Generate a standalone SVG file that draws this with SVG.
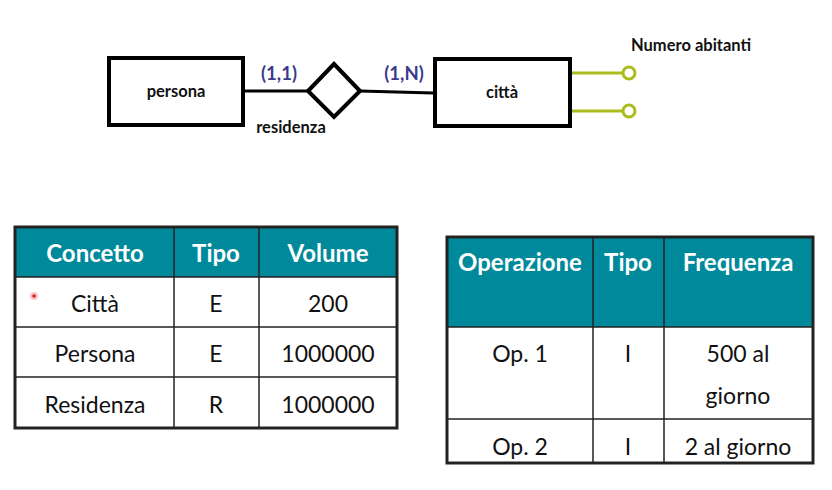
<svg xmlns="http://www.w3.org/2000/svg" width="832" height="490" viewBox="0 0 832 490">
<style>
.ent{fill:#fff;stroke:#000;stroke-width:4}
.lbl{font-family:Lato,"Liberation Sans",sans-serif;font-weight:bold;font-size:16.5px;fill:#111}
.card{font-family:Lato,"Liberation Sans",sans-serif;font-weight:bold;font-size:18.5px;fill:#3a3a8a}
.conn{stroke:#000;stroke-width:3;fill:none}
.attr{stroke:#a9bc1c;stroke-width:3;fill:none}
.attrc{stroke:#a9bc1c;stroke-width:3;fill:#fff}
.hdr{fill:#00899a}
.ht{font-family:Lato,"Liberation Sans",sans-serif;font-weight:bold;font-size:24px;fill:#fff;text-anchor:middle}
.bt{font-family:Lato,"Liberation Sans",sans-serif;font-size:23px;fill:#111;text-anchor:middle}
.grid{stroke:#222;stroke-width:1.5;fill:none}
.outer{stroke:#222;stroke-width:3;fill:none}
</style>
<rect width="832" height="490" fill="#fff"/>
<g id="connectors">
<line class="conn" x1="245" y1="91" x2="308" y2="91"/>
<line class="conn" x1="360" y1="91" x2="433" y2="93"/>
<line class="attr" x1="572" y1="73" x2="623" y2="73"/>
<line class="attr" x1="572" y1="111" x2="623" y2="111"/>
</g>
<g id="persona">
<rect class="ent" x="109" y="58" width="134" height="67"/>
<text class="lbl" x="176" y="97" text-anchor="middle">persona</text>
</g>
<g id="residenza">
<polygon points="334,64 360,91 334,117 308,91" fill="#fff" stroke="#000" stroke-width="4"/>
<text class="lbl" x="291" y="133" text-anchor="middle">residenza</text>
<text class="card" x="279" y="80" text-anchor="middle">(1,1)</text>
<text class="card" x="404" y="80" text-anchor="middle">(1,N)</text>
</g>
<g id="citta">
<rect class="ent" x="435" y="59" width="135" height="67"/>
<text class="lbl" x="502" y="98" text-anchor="middle">città</text>
</g>
<g id="attr-numero-abitanti">
<circle class="attrc" cx="629" cy="73" r="6"/>
<text class="lbl" x="631" y="51">Numero abitanti</text>
</g>
<g id="attr-2">
<circle class="attrc" cx="629" cy="111" r="6"/>
</g>
<g id="table-concetti">
<rect class="hdr" x="15" y="227" width="382" height="50"/>
<line class="grid" x1="15" y1="277" x2="397" y2="277"/>
<line class="grid" x1="15" y1="327" x2="397" y2="327"/>
<line class="grid" x1="15" y1="377" x2="397" y2="377"/>
<line class="grid" x1="174" y1="227" x2="174" y2="428"/>
<line class="grid" x1="259" y1="227" x2="259" y2="428"/>
<rect class="outer" x="15" y="227" width="382" height="201"/>
<text class="ht" x="95" y="262">Concetto</text>
<text class="ht" x="216" y="262">Tipo</text>
<text class="ht" x="328" y="262">Volume</text>
<text class="bt" x="95" y="312">Città</text>
<text class="bt" x="216" y="312">E</text>
<text class="bt" x="328" y="312">200</text>
<text class="bt" x="95" y="362">Persona</text>
<text class="bt" x="216" y="362">E</text>
<text class="bt" x="328" y="362">1000000</text>
<text class="bt" x="95" y="413">Residenza</text>
<text class="bt" x="216" y="413">R</text>
<text class="bt" x="328" y="413">1000000</text>
<circle cx="34" cy="296" r="4" fill="#f7c6c6"/>
<circle cx="34" cy="296" r="1.8" fill="#e02020"/>
</g>
<g id="table-operazioni">
<rect class="hdr" x="447" y="237" width="366" height="90"/>
<line class="grid" x1="447" y1="327" x2="813" y2="327"/>
<line class="grid" x1="447" y1="419" x2="813" y2="419"/>
<line class="grid" x1="593" y1="237" x2="593" y2="463"/>
<line class="grid" x1="664" y1="237" x2="664" y2="463"/>
<rect class="outer" x="447" y="237" width="366" height="226"/>
<text class="ht" x="520" y="271">Operazione</text>
<text class="ht" x="628" y="271">Tipo</text>
<text class="ht" x="738" y="271">Frequenza</text>
<text class="bt" x="520" y="362">Op. 1</text>
<text class="bt" x="628" y="362">I</text>
<text class="bt" x="738" y="362">500 al</text>
<text class="bt" x="738" y="404">giorno</text>
<text class="bt" x="520" y="455">Op. 2</text>
<text class="bt" x="628" y="455">I</text>
<text class="bt" x="738" y="455">2 al giorno</text>
</g>
</svg>
